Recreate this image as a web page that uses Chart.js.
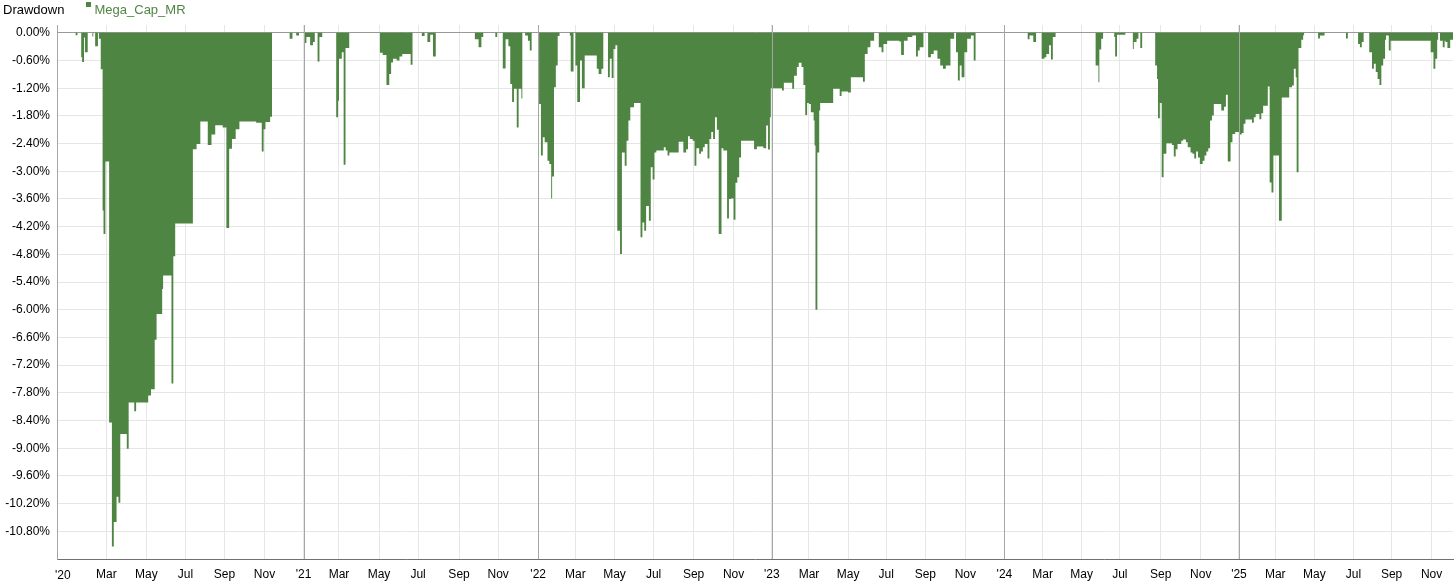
<!DOCTYPE html>
<html><head><meta charset="utf-8">
<script src="https://cdn.jsdelivr.net/npm/chart.js@4.4.1/dist/chart.umd.min.js"></script>
<style>html,body{margin:0;padding:0;background:#fff;overflow:hidden}#wrap{position:relative;width:1456px;height:587px}</style>
</head><body><div id="wrap"><canvas id="c" width="1456" height="587"></canvas></div>
<script>
const chartTitle = 'Drawdown';
const seriesName = 'Mega_Cap_MR';

// trading-day index (from mid-Dec 2019) at which each drawdown level starts
const tradingDay = [0,20,22,26,27,29,30,33,38,39,41,44,45,47,49,50,52,56,59,61,64,66,68,75,77,83,85,98,101,105,107,113,114,123,125,127,146,150,154,162,166,170,178,182,185,188,192,196,214,220,222,224,229,231,
250,253,257,260,266,268,272,275,277,280,282,285,300,302,303,306,308,310,314,347,350,354,357,359,361,365,368,371,380,382,392,395,398,401,404,407,449,453,456,458,471,473,479,482,485,487,489,491,494,496,499,500,503,506,508,510,
518,520,522,524,527,529,531,532,534,536,538,540,551,552,555,557,559,562,564,567,580,582,585,587,592,594,596,598,600,602,605,607,610,612,614,616,620,627,629,631,633,636,638,640,642,644,652,654,656,658,668,673,676,678,680,683,685,687,690,692,694,696,699,701,703,705,707,709,711,714,716,720,722,724,727,729,731,733,735,749,752,759,762,764,766,
767,779,781,790,792,795,797,800,802,804,806,808,810,813,814,815,817,819,820,834,841,843,850,853,866,868,871,874,878,883,886,888,892,905,907,910,914,919,923,925,927,931,936,939,942,946,949,952,955,960,964,966,968,970,972,975,978,982,985,987,
1043,1045,1049,1052,1058,1061,1063,1066,1068,1070,1073,1116,1119,1120,1122,1124,1136,1137,1139,1148,1156,1157,1160,1162,1164,1166,1180,1182,1183,1185,1187,1189,1192,1198,1200,1202,1204,1208,1210,1213,1215,1218,1220,1222,1224,1226,1228,1231,1233,1235,1237,1239,1241,1243,1251,1254,1256,1258,1261,1263,1266,
1270,1273,1275,1277,1284,1286,1288,1292,1294,1296,1301,1303,1305,1307,1313,1316,1324,1327,1329,1331,1332,1334,1337,1339,1340,1355,1357,1362,1385,1387,1398,1400,1402,1404,1410,1413,1415,1417,1419,1421,1423,1425,1427,1428,1431,1433,1476,1479,1481,1483,1484,1486,1489,1491,1492,1494,1497,1500];

// drawdown in percent
const drawdown = [0,-0.05,0,-0.53,-0.63,-0.1,-0.42,0,-0.08,0,-0.29,0,-0.13,-0.79,-3.85,-4.36,-2.79,-8.44,-11.13,-10.6,-10.05,-10.18,-8.69,-9.01,-8.01,-8.2,-8.01,-7.86,-7.72,-6.65,-6.09,-5.55,-5.26,-7.6,-4.84,-4.13,-2.52,-2.41,-1.92,-2.43,-2.2,-2.0,-2.05,-4.23,-2.51,-2.3,-2.09,-1.92,-1.95,-2.57,-2.09,-1.93,-1.82,0,
-0.13,0,-0.06,0,-0.22,-0.09,-0.27,-0.2,0,-0.62,-0.09,0,-1.83,-1.47,-0.56,-0.42,-2.86,-0.33,0,-0.43,-0.48,-1.13,-0.89,-0.64,-0.56,-0.6,-0.51,-0.46,-0.69,0,-0.07,0,-0.2,-0.04,-0.51,0,-0.14,-0.31,-0.09,0,-0.09,0,-0.77,-0.14,-0.29,-1.11,-1.5,-1.21,-2.05,-1.21,-1.42,0,-0.06,-0.17,-0.38,0,
-1.54,-2.66,-2.26,-2.37,-2.77,-2.84,-3.59,-3.11,-1.18,-0.71,-0.07,0,-0.06,-0.84,0,-0.71,-1.5,-0.6,-1.2,-0.49,-0.78,-0.89,-0.78,0,-0.96,-0.56,-0.98,-0.35,-0.27,-4.29,-4.79,-2.59,-2.88,-2.34,-1.9,-1.61,-1.52,-4.43,-4.11,-4.29,-3.75,-4.07,-2.91,-3.18,-2.59,-2.55,-2.48,-2.55,-2.66,-2.59,-2.36,-2.59,-2.52,-2.24,-2.3,-2.34,-2.88,-2.5,-2.62,-2.57,-2.48,-2.41,-2.72,-2.3,-2.15,-2.3,-1.83,-2.1,-4.36,-2.5,-2.55,-4.02,-3.6,-3.59,-4.05,-3.25,-3.13,-2.7,-2.34,-2.52,-2.46,-2.5,-2.01,-2.53,-1.83,
-1.2,-1.25,-1.08,-1.21,-0.93,-0.74,-0.65,-0.74,-1.13,-1.78,-1.52,-1.54,-1.72,-1.9,-2.44,-6.0,-2.59,-1.68,-1.52,-1.21,-1.37,-1.27,-1.29,-0.96,-1.06,-0.46,-0.31,-0.17,0,-0.31,-0.42,-0.24,-0.17,-0.19,-0.48,-0.17,-0.09,-0.06,-0.51,-0.38,-0.31,0,-0.53,-0.46,-0.38,-0.56,-0.71,-0.78,-0.71,-0.13,0,-0.42,-1.03,-0.71,-0.96,-0.42,-0.13,-0.06,-0.6,0,
-0.14,-0.06,-0.2,0,-0.56,-0.53,-0.46,-0.27,-0.58,-0.09,0,-0.71,-1.07,-0.36,-0.13,0,-0.09,-0.51,-0.04,0,-0.35,-0.2,-0.13,0,-0.33,0,-0.71,-1.0,-1.85,-1.52,-3.13,-2.62,-2.39,-2.43,-2.68,-2.52,-2.41,-2.34,-2.31,-2.37,-2.48,-2.59,-2.62,-2.72,-2.57,-2.7,-2.84,-2.77,-2.66,-2.57,-2.5,-1.9,-1.79,-1.54,-1.68,-1.6,-1.34,-2.79,-2.37,-2.19,-2.15,
-2.2,-2.17,-1.97,-1.88,-1.95,-1.83,-1.76,-1.87,-1.74,-1.58,-1.16,-3.24,-3.46,-2.66,-4.07,-1.4,-1.18,-1.14,-0.78,-0.96,-3.02,-0.33,-0.15,-0.05,0,-0.12,-0.06,0,-0.12,0,-0.24,-0.31,-0.2,0,-0.42,-0.78,-0.67,-0.85,-1.0,-1.13,-0.71,-0.56,-0.15,-0.06,-0.38,-0.17,-0.42,-0.78,-0.56,-0.15,0,-0.17,-0.31,-0.17,-0.2,-0.33,-0.15,-0.15];

const xTickDays = [0,53,96,138,180,223,265,303,346,388,432,474,517,557,599,641,684,727,768,808,850,891,933,976,1018,1059,1101,1142,1186,1229,1270,1309,1351,1393,1434,1477];
const xTickLabels = ["'20","Mar","May","Jul","Sep","Nov","'21","Mar","May","Jul","Sep","Nov","'22","Mar","May","Jul","Sep","Nov","'23","Mar","May","Jul","Sep","Nov","'24","Mar","May","Jul","Sep","Nov","'25","Mar","May","Jul","Sep","Nov"];
const yTicks = [0,-0.6,-1.2,-1.8,-2.4,-3.0,-3.6,-4.2,-4.8,-5.4,-6.0,-6.6,-7.2,-7.8,-8.4,-9.0,-9.6,-10.2,-10.8];

const GREEN = '#4e8542';
const FONT = '"Liberation Sans", Arial, sans-serif';

const points = tradingDay.map((d, i) => ({x: d, y: drawdown[i]}));

const yearLines = {
  id: 'yearLines',
  afterDatasetsDraw(chart) {
    const {ctx, chartArea} = chart;
    const xs = chart.scales.x;
    ctx.save();
    ctx.strokeStyle = '#a6a6a6';
    ctx.lineWidth = 1;
    xTickLabels.forEach((lab, i) => {
      if (lab.charAt(0) !== "'") return;
      const px = Math.round(xs.getPixelForValue(xTickDays[i])) + 0.5;
      ctx.beginPath();
      ctx.moveTo(px, chartArea.top);
      ctx.lineTo(px, chartArea.bottom);
      ctx.stroke();
    });
    ctx.restore();
  }
};

const legendPlugin = {
  id: 'legendText',
  afterDraw(chart) {
    const ctx = chart.ctx;
    ctx.save();
    ctx.font = '13px ' + FONT;
    ctx.textBaseline = 'alphabetic';
    ctx.textAlign = 'left';
    ctx.fillStyle = '#000';
    ctx.fillText(chartTitle, 3, 13.5);
    ctx.fillStyle = GREEN;
    ctx.fillRect(86, 2, 5, 5);
    ctx.fillText(seriesName, 94.5, 13.5);
    // first x label sits inside the plot, left-aligned on its tick
    const xs = chart.scales.x;
    ctx.font = '12px ' + FONT;
    ctx.fillStyle = '#000';
    ctx.textBaseline = 'middle';
    ctx.fillText(xTickLabels[0], xs.getPixelForValue(xTickDays[0]) - 2, 575.5);
    ctx.restore();
  }
};

new Chart(document.getElementById('c').getContext('2d'), {
  type: 'line',
  data: {datasets: [{
    label: seriesName, data: points, stepped: 'before', fill: 'origin',
    backgroundColor: GREEN, borderColor: 'rgba(0,0,0,0)', borderWidth: 0,
    pointRadius: 0, pointHoverRadius: 0, tension: 0
  }]},
  options: {
    responsive: false, animation: false, devicePixelRatio: 1,
    events: [],
    layout: {padding: {top: 25, right: 3, left: 0, bottom: 0}},
    plugins: {legend: {display: false}, tooltip: {enabled: false}, title: {display: false}},
    scales: {
      x: {
        type: 'linear', min: 0, max: 1500,
        afterFit(s) { s.height = 28; },
        afterBuildTicks(s) { s.ticks = xTickDays.map(v => ({value: v})); },
        ticks: {autoSkip: false, maxRotation: 0, minRotation: 0, padding: 8, color: '#000',
          font: {family: FONT, size: 12}, callback: (v, i) => (i === 0 ? '' : xTickLabels[i])},
        grid: {drawTicks: false, color: '#e6e6e6', lineWidth: 1},
        border: {display: true, color: '#707070', width: 1}
      },
      y: {
        type: 'linear', min: -11.4, max: 0.17,
        afterFit(s) { s.width = 57; },
        afterBuildTicks(s) { s.ticks = yTicks.map(v => ({value: v})); },
        ticks: {padding: 7, color: '#000', font: {family: FONT, size: 12},
          callback: v => v.toFixed(2) + '%'},
        grid: {drawTicks: false, color: c => (c.tick && c.tick.value === 0) ? '#999999' : '#e6e6e6'},
        border: {display: true, color: '#999999', width: 1}
      }
    }
  },
  plugins: [yearLines, legendPlugin]
});
</script>
</body></html>
